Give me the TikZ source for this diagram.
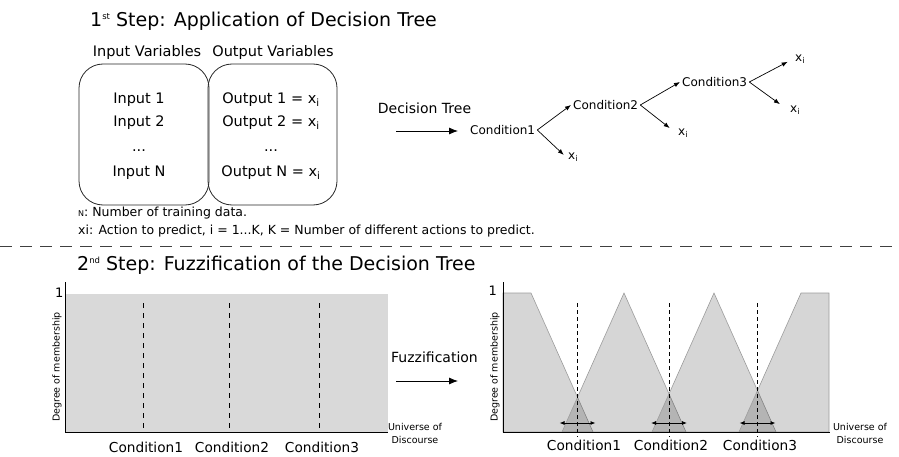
\documentclass[tikz,border=0pt]{standalone}
\usepackage{fontspec}
\setmainfont{DejaVu Sans}
\usetikzlibrary{arrows.meta,positioning}
\definecolor{fuzzgray}{HTML}{D9D9D9}
\definecolor{edgegray}{HTML}{9C9C9C}
\newcommand{\xsub}{x\textsubscript{i}}
\newcommand{\stepsup}[1]{\raisebox{6.5pt}{\fontsize{8.5}{9}\selectfont #1}}

\begin{document}
\begin{tikzpicture}[x=1pt,y=-1pt,
	every node/.style={inner sep=0pt},
	steptitle/.style={anchor=west,font=\fontsize{19}{23}\selectfont},
	vartext/.style={font=\fontsize{14.5}{17}\selectfont},
	vbox/.style={draw=black!85,line width=0.8pt,rounded corners=24pt},
	note/.style={anchor=west,font=\fontsize{12.5}{15}\selectfont},
	arrowtext/.style={font=\fontsize{14}{17}\selectfont},
	cond/.style={anchor=west,inner sep=2pt,font=\fontsize{12}{14}\selectfont},
	axislabel/.style={font=\fontsize{13.7}{16}\selectfont},
	tinylabel/.style={align=center,font=\fontsize{9.5}{13}\selectfont},
	fuzzset/.style={draw=edgegray,line width=0.6pt,fill=black,fill opacity=0.16},
	bigarrow/.style={-{Latex[length=9pt,width=7pt]},line width=0.8pt},
	smallarrow/.style={-{Latex[length=6pt,width=4.5pt]},line width=0.7pt}]
\useasboundingbox (0,0) rectangle (899,457);

% first step
\node[steptitle] (t1) at (90,21) {1\stepsup{st} Step: Application of Decision Tree};
\node[vartext] (invar) at (147,53) {Input Variables};
\node[vartext] (outvar) at (273,53) {Output Variables};
\node[vbox,minimum width=130pt,minimum height=141pt] (inbox) at (144,134.5) {};
\node[vbox,minimum width=129pt,minimum height=141pt] (outbox) at (272.5,134.5) {};
\foreach \n/\y in {1/100,2/123,N/173}{
	\node[vartext] (in\n) at (139,\y) {Input \n};
	\node[vartext] (out\n) at (271,\y) {Output \n\ = \xsub};
}
\node[vartext] (indots) at (139,151) {...};
\node[vartext] (outdots) at (271,151) {...};
\node[note] (notea) at (78,213) {{\fontsize{8}{10}\selectfont N}: Number of training data.};
\node[note] (noteb) at (78,231) {xi: Action to predict, i = 1...K, K = Number of different actions to predict.};

\node[arrowtext] (dtlabel) at (424.5,108) {Decision Tree};
\coordinate (dtstart) at (396,131);
\coordinate (dtend) at (458,131);
\draw[bigarrow] (dtstart) -- (dtend);
\node[cond] (c1) at (468,130) {Condition1};
\node[cond] (c2) at (571,105) {Condition2};
\node[cond] (c3) at (680,82) {Condition3};
\node[cond] (x1) at (566,157) {\xsub};
\node[cond] (x2) at (676,133) {\xsub};
\node[cond] (x3) at (793,59) {\xsub};
\node[cond] (x4) at (788,110) {\xsub};
\draw[smallarrow] (c1.east) -- (c2.west);
\draw[smallarrow,shorten >=3pt] (c1.east) -- (x1.west);
\draw[smallarrow] (c2.east) -- (c3.west);
\draw[smallarrow,shorten >=8pt] (c2.east) -- (x2.west);
\draw[smallarrow,shorten >=6pt] (c3.east) -- (x3.west);
\draw[smallarrow,shorten >=10pt] (c3.east) -- (x4.west);

\draw[black!75,line width=0.8pt,dash pattern=on 12pt off 8pt] (0,246) -- (899,246);

% second step
\node[steptitle] (t2) at (77,265) {2\stepsup{nd} Step: Fuzzification of the Decision Tree};

\fill[fuzzgray] (66,294) rectangle (388,432);
\draw[line width=1pt] (65,282) -- (65,432) -- (388,432);
\foreach \x in {143,229,319}
	\draw[line width=0.8pt,dash pattern=on 5pt off 5pt] (\x,303) -- (\x,432);
\node[axislabel,anchor=east,font=\fontsize{13}{15}\selectfont] (oneL) at (63.5,293) {1};
\node[tinylabel,rotate=90] (degL) at (57,367) {Degree of membership};
\node[tinylabel] (uodL) at (415,433.5) {Universe of\\Discourse};
\foreach \x/\c in {146/1,232/2,322/3}
	\node[axislabel] (lc\c) at (\x,447) {Condition\c};

\node[arrowtext] (fzlabel) at (434.5,357) {Fuzzification};
\coordinate (fzstart) at (396,381);
\coordinate (fzend) at (458,381);
\draw[bigarrow] (fzstart) -- (fzend);

\filldraw[fuzzset] (503,432) -- (503,293) -- (531,293) -- (593,432) -- cycle;
\filldraw[fuzzset] (562,432) -- (624,293) -- (686,432) -- cycle;
\filldraw[fuzzset] (652,432) -- (714,293) -- (776,432) -- cycle;
\filldraw[fuzzset] (739,432) -- (801,293) -- (829,293) -- (829,432) -- cycle;
\draw[line width=1pt] (503,282) -- (503,432) -- (830,432);
\foreach \x in {577.5,669,757.5}{
	\draw[line width=0.8pt,dash pattern=on 4pt off 3pt] (\x,303) -- (\x,437);
	\draw[{Latex[length=5pt,width=4pt]}-{Latex[length=5pt,width=4pt]},line width=0.8pt] (\x-18,423) -- (\x+18,423);
}
\node[axislabel,anchor=east,font=\fontsize{13}{15}\selectfont] (oneR) at (497,291) {1};
\node[tinylabel,rotate=90] (degR) at (495,367) {Degree of membership};
\node[tinylabel] (uodR) at (860,433.5) {Universe of\\Discourse};
\foreach \x/\c in {584/1,671/2,760/3}
	\node[axislabel] (rc\c) at (\x,445) {Condition\c};
\end{tikzpicture}
\end{document}
